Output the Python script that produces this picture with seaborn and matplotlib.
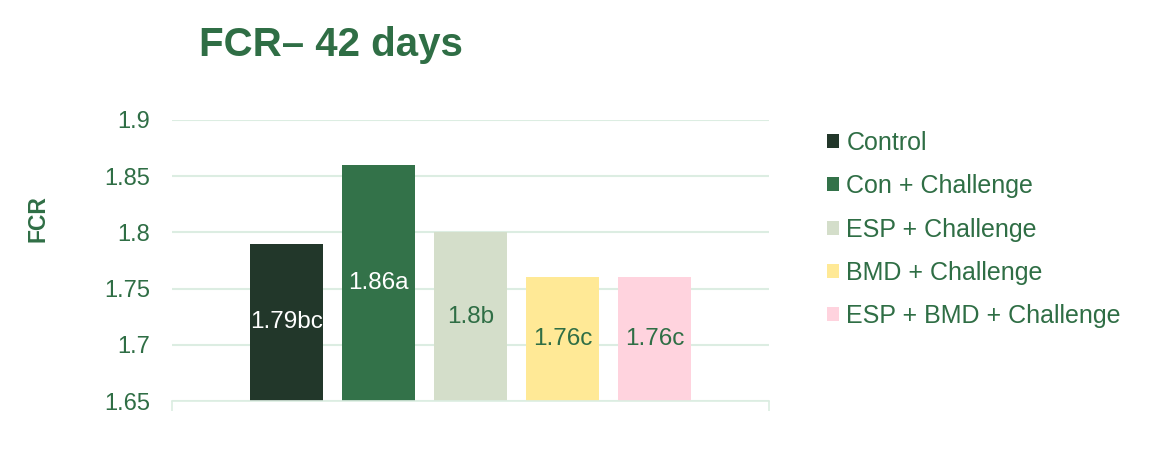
import matplotlib
matplotlib.use("Agg")
import matplotlib.pyplot as plt
import seaborn as sns
import pandas as pd
from matplotlib.patches import Patch

groups = ["Control", "Con + Challenge", "ESP + Challenge", "BMD + Challenge", "ESP + BMD + Challenge"]
values = [1.79, 1.86, 1.80, 1.76, 1.76]
labels = ["1.79bc", "1.86a", "1.8b", "1.76c", "1.76c"]
colors = ["#22372A", "#337249", "#D4DECA", "#FFE996", "#FFD3DE"]
label_colors = ["white", "white", "#2F6E45", "#2F6E45", "#2F6E45"]
yticks = [1.65, 1.7, 1.75, 1.8, 1.85, 1.9]
ytick_labels = ["1.65", "1.7", "1.75", "1.8", "1.85", "1.9"]

GREEN = "#2F6E45"
GRID = "#DCEDE2"

sns.set_theme(style="white")
plt.rcParams["font.family"] = ["Liberation Sans", "DejaVu Sans"]

df = pd.DataFrame({"group": groups, "value": values})

fig = plt.figure(figsize=(11.56, 4.54), dpi=100)
ax = fig.add_axes([172 / 1156, 1 - 401 / 454, (769 - 172) / 1156, (401 - 120) / 454])

sns.barplot(data=df, x="group", y="value", hue="group", order=groups, hue_order=groups,
            palette=colors, width=0.79, legend=False, ax=ax, saturation=1, linewidth=0)

ax.set_ylim(1.65, 1.9)
ax.set_xlim(-1.245, 4 + 1.245)
ax.set_yticks(yticks)
ax.set_yticklabels(ytick_labels)
ax.yaxis.grid(True, color=GRID, linewidth=1.5)
ax.set_axisbelow(True)
for s in ["top", "right", "left"]:
    ax.spines[s].set_visible(False)
ax.spines["bottom"].set_color(GRID)
ax.spines["bottom"].set_linewidth(1.2)
ax.set_xticks([-1.245, 5.245])
ax.set_xticklabels(["", ""])
ax.tick_params(axis="x", length=7, color=GRID, width=1.2, bottom=True)
ax.tick_params(axis="y", length=0, pad=16, labelsize=17, labelcolor=GREEN)
ax.set_xlabel("")
ax.set_ylabel("")

for container in ax.containers:
    for bar in container:
        i = int(round(bar.get_x() + bar.get_width() / 2))
        cx = bar.get_x() + bar.get_width() / 2
        cy = (1.65 + values[i]) / 2
        ax.text(cx, cy, labels[i], ha="center", va="center", fontsize=17.5, color=label_colors[i])

fig.text(331 / 1156, 1 - 45 / 454, "FCR– 42 days", ha="center", va="center",
         fontsize=29, fontweight="bold", color=GREEN)
fig.text(37.5 / 1156, 1 - 219 / 454, "FCR", ha="center", va="center", rotation=90,
         fontsize=16.5, fontweight="bold", color=GREEN)

handles = [Patch(facecolor=c, edgecolor="none") for c in colors]
leg = fig.legend(handles, groups, loc="upper left", bbox_to_anchor=(827 / 1156, 1 - 131 / 454),
                 frameon=False, fontsize=18, handlelength=0.48, handleheight=0.48,
                 handletextpad=0.3, labelspacing=0.77, borderpad=0, borderaxespad=0)
for t in leg.get_texts():
    t.set_color(GREEN)

fig.savefig("out.png", dpi=100)
